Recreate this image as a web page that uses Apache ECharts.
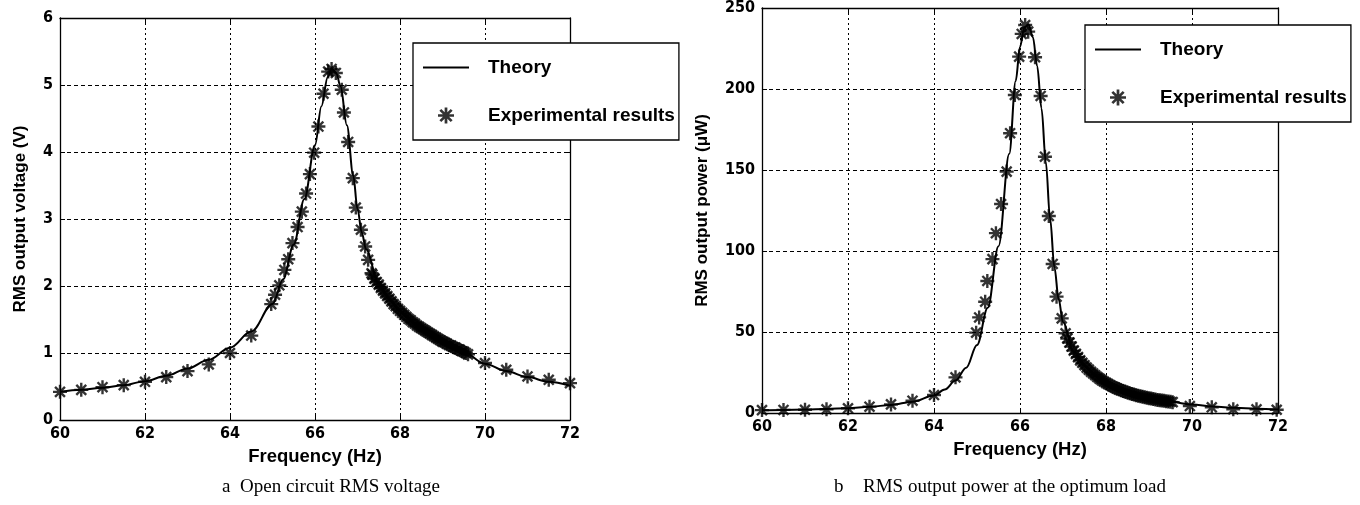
<!DOCTYPE html>
<html>
<head>
<meta charset="utf-8">
<script src="https://cdn.jsdelivr.net/npm/echarts@6/dist/echarts.min.js"></script>
<style>
html,body{margin:0;padding:0;background:#fff;}
#chart{width:1360px;height:505px;}
</style>
</head>
<body>
<div id="chart"></div>
<script>
// ---------- DATA ----------
const xTicks = [60, 62, 64, 66, 68, 70, 72];
const voltTicks = [0, 1, 2, 3, 4, 5, 6];
const powerTicks = [0, 50, 100, 150, 200, 250];

// (a) Open circuit RMS voltage
const voltTheoryFreq = [60, 60.5, 61, 61.5, 62, 62.5, 63, 63.5, 64, 64.5, 65, 65.25, 65.5, 65.75, 66, 66.15, 66.3, 66.4, 66.5, 66.6, 66.75, 66.9, 67, 67.1, 67.2, 67.5, 67.75, 68, 68.5, 69, 69.5, 70, 70.5, 71, 71.5, 72];
const voltTheory     = [0.42, 0.45, 0.48, 0.52, 0.58, 0.66, 0.77, 0.90, 1.08, 1.32, 1.73, 2.10, 2.62, 3.30, 4.10, 4.68, 5.12, 5.24, 5.18, 4.98, 4.40, 3.65, 3.15, 2.80, 2.55, 2.04, 1.80, 1.62, 1.37, 1.17, 1.01, 0.84, 0.73, 0.64, 0.57, 0.51];
const voltExpFreq = [60, 60.5, 61, 61.5, 62, 62.5, 63, 63.5, 64, 64.5, 64.97, 65.06, 65.16, 65.28, 65.37, 65.47, 65.59, 65.69, 65.79, 65.88, 65.98, 66.08, 66.2, 66.31, 66.39, 66.49, 66.63, 66.68, 66.78, 66.89, 66.96, 67.08, 67.18, 67.25, 67.33,
  67.35, 67.40, 67.45, 67.50, 67.55, 67.60, 67.65, 67.70, 67.75, 67.80, 67.85, 67.90, 67.95, 68.00, 68.05, 68.10, 68.15, 68.20, 68.25, 68.30, 68.35, 68.40, 68.45, 68.50, 68.55, 68.60, 68.65, 68.70, 68.75, 68.80, 68.85, 68.90, 68.95, 69.00, 69.05, 69.10, 69.15, 69.20, 69.25, 69.30, 69.35, 69.40, 69.45, 69.50, 69.55, 69.60,
  70, 70.5, 71, 71.5, 72];
const voltExp = [0.42, 0.45, 0.49, 0.52, 0.57, 0.64, 0.73, 0.83, 1.00, 1.26, 1.73, 1.87, 2.01, 2.24, 2.40, 2.64, 2.88, 3.11, 3.38, 3.67, 3.99, 4.38, 4.87, 5.20, 5.24, 5.18, 4.93, 4.59, 4.15, 3.61, 3.17, 2.84, 2.59, 2.39, 2.19,
  2.17, 2.11, 2.06, 2.02, 1.97, 1.93, 1.89, 1.85, 1.81, 1.77, 1.73, 1.70, 1.66, 1.63, 1.60, 1.57, 1.54, 1.51, 1.49, 1.46, 1.44, 1.41, 1.39, 1.37, 1.35, 1.33, 1.31, 1.29, 1.27, 1.25, 1.23, 1.21, 1.19, 1.17, 1.16, 1.14, 1.12, 1.11, 1.09, 1.08, 1.06, 1.05, 1.03, 1.02, 1.00, 0.98,
  0.85, 0.75, 0.65, 0.60, 0.55];

// (b) RMS output power at the optimum load
const powerTheoryFreq = [60, 60.5, 61, 61.5, 62, 62.5, 63, 63.5, 64, 64.25, 64.5, 64.75, 65, 65.25, 65.5, 65.75, 65.9, 66, 66.1, 66.2, 66.3, 66.4, 66.5, 66.6, 66.7, 66.8, 66.9, 67, 67.25, 67.5, 67.75, 68, 68.5, 69, 69.5, 70, 70.5, 71, 71.5, 72];
const powerTheory     = [1.7, 1.9, 2.1, 2.5, 3.0, 3.8, 5.0, 7.0, 10.8, 14.5, 20, 28, 42, 65, 103, 160, 205, 226, 238, 240, 232, 214, 188, 155, 120, 90, 70, 56, 38, 29, 23, 18.3, 12.6, 9.2, 6.9, 5.2, 4.0, 3.2, 2.6, 2.2];
const powerExpFreq = [60, 60.5, 61, 61.5, 62, 62.5, 63, 63.5, 64, 64.5, 64.98, 65.05, 65.19, 65.24, 65.36, 65.44, 65.56, 65.69, 65.77, 65.88, 65.98, 66.04, 66.12, 66.19, 66.35, 66.48, 66.58, 66.67, 66.76, 66.85, 66.97, 67.06,
  67.10, 67.15, 67.20, 67.25, 67.30, 67.35, 67.40, 67.45, 67.50, 67.55, 67.60, 67.65, 67.70, 67.75, 67.80, 67.85, 67.90, 67.95, 68.00, 68.05, 68.10, 68.15, 68.20, 68.25, 68.30, 68.35, 68.40, 68.45, 68.50, 68.55, 68.60, 68.65, 68.70, 68.75, 68.80, 68.85, 68.90, 68.95, 69.00, 69.05, 69.10, 69.15, 69.20, 69.25, 69.30, 69.35, 69.40, 69.45, 69.50, 69.55,
  69.95, 70.46, 70.96, 71.5, 71.97];
const powerExp = [1.8, 1.9, 2.0, 2.3, 2.9, 3.9, 5.3, 7.6, 11.1, 22, 49.6, 59, 68.7, 81.5, 95, 111, 129, 149, 172.7, 196.3, 220, 234, 239.5, 235.4, 219.6, 195.7, 158.2, 121.6, 92, 71.8, 58.4, 49.2,
  46, 43.5, 41, 38.5, 36.5, 34.5, 32.5, 31, 29.5, 28, 26.8, 25.5, 24.4, 23.3, 22.2, 21.2, 20.3, 19.4, 18.6, 17.8, 17.1, 16.4, 15.8, 15.2, 14.6, 14.1, 13.6, 13.1, 12.6, 12.2, 11.8, 11.4, 11.0, 10.7, 10.3, 10.0, 9.7, 9.4, 9.1, 8.9, 8.6, 8.4, 8.1, 7.9, 7.7, 7.5, 7.3, 7.1, 6.9, 6.7,
  4.3, 3.5, 2.3, 2.3, 2.0];

const seriesNames = ['Theory', 'Experimental results'];
const xTitle = 'Frequency (Hz)';
const voltTitle = 'RMS output voltage (V)';
const powerTitle = 'RMS output power (\u03bcW)';
const captionA = ['a', 'Open circuit RMS voltage'];
const captionB = ['b', 'RMS output power at the optimum load'];

// ---------- HELPERS ----------
const zip = (xs, ys) => xs.map((x, i) => [x, ys[i]]);
const asterisk = (() => {
  const w = 0.17;
  let d = '';
  for (const deg of [0, 45, 90, 135]) {
    const t = deg * Math.PI / 180, c = Math.cos(t), s = Math.sin(t);
    const pts = [[-1, -w], [1, -w], [1, w], [-1, w]].map(([x, y]) => [10 + 10 * (x * c - y * s), 10 + 10 * (x * s + y * c)]);
    d += 'M' + pts.map(p => p[0].toFixed(3) + ' ' + p[1].toFixed(3)).join(' L') + ' Z ';
  }
  return 'path://' + d;
})();

const tickFont = { fontFamily: "'Liberation Sans Narrow', 'DejaVu Sans Condensed', sans-serif", fontWeight: 'bold', fontSize: 16, color: '#000' };
const yTitleFont = { fontFamily: "'Liberation Sans', Arial, sans-serif", fontWeight: 'bold', fontSize: 17, color: '#000' };
const xTitleFont = { fontFamily: "'Liberation Sans', Arial, sans-serif", fontWeight: 'bold', fontSize: 18.5, color: '#000' };
const legendFont = { fontFamily: "'Liberation Sans', Arial, sans-serif", fontWeight: 'bold', fontSize: 19, color: '#000' };
const serifFont = { fontFamily: "'Liberation Serif', 'Times New Roman', serif", fontWeight: 'normal', fontSize: 19, color: '#000' };

function xAx(grid, pos, main) {
  return {
    type: 'value', gridIndex: grid, position: pos, min: xTicks[0], max: xTicks[xTicks.length - 1], interval: xTicks[1] - xTicks[0],
    name: main ? xTitle : '', nameLocation: 'middle', nameGap: 27, nameTextStyle: xTitleFont,
    axisLine: { show: true, onZero: false, lineStyle: { color: '#000', width: 1.3 } },
    axisTick: { show: true, inside: true, length: 5, lineStyle: { color: '#000' } },
    axisLabel: { show: main, margin: 6, ...tickFont },
    splitLine: { show: main, lineStyle: { color: '#000', width: 1, type: [2, 3] } }
  };
}
function yAx(grid, pos, main, ticks, title, gap) {
  return {
    type: 'value', gridIndex: grid, position: pos, min: ticks[0], max: ticks[ticks.length - 1], interval: ticks[1] - ticks[0],
    name: main ? title : '', nameLocation: 'middle', nameGap: gap, nameRotate: 90, nameTextStyle: yTitleFont,
    axisLine: { show: true, onZero: false, lineStyle: { color: '#000', width: 1.3 } },
    axisTick: { show: true, inside: true, length: 5, lineStyle: { color: '#000' } },
    axisLabel: { show: main, margin: 7, ...tickFont },
    splitLine: { show: main, lineStyle: { color: '#000', width: 1, type: [4, 3] } }
  };
}
function legendAt(left, top) {
  return {
    left: left, top: top, orient: 'vertical', selectedMode: false,
    data: [
      { name: seriesNames[0], itemStyle: { color: 'rgba(0,0,0,0)', borderWidth: 0, opacity: 0 } },
      { name: seriesNames[1] }
    ],
    backgroundColor: '#fff', borderColor: '#000', borderWidth: 1.3,
    padding: [15, 4, 15, 9], itemWidth: 46, itemHeight: 16, itemGap: 29,
    textStyle: { ...legendFont, padding: [0, 0, 0, 14] }
  };
}

const chart = echarts.init(document.getElementById('chart'), null, { renderer: 'canvas' });
chart.setOption({
  animation: false,
  backgroundColor: '#fff',
  title: [
    { text: captionA[0], left: 222, top: 478, padding: 0, textStyle: serifFont },
    { text: captionA[1], left: 240, top: 478, padding: 0, textStyle: serifFont },
    { text: captionB[0], left: 834, top: 478, padding: 0, textStyle: serifFont },
    { text: captionB[1], left: 863, top: 478, padding: 0, textStyle: serifFont }
  ],
  legend: [legendAt(413, 43), legendAt(1085, 25)],
  grid: [
    { left: 60, top: 18, width: 510, height: 402, show: false },
    { left: 762, top: 8, width: 516, height: 405, show: false }
  ],
  xAxis: [xAx(0, 'bottom', true), xAx(0, 'top', false), xAx(1, 'bottom', true), xAx(1, 'top', false)],
  yAxis: [
    yAx(0, 'left', true, voltTicks, voltTitle, 31),
    yAx(0, 'right', false, voltTicks, '', 0),
    yAx(1, 'left', true, powerTicks, powerTitle, 51),
    yAx(1, 'right', false, powerTicks, '', 0)
  ],
  series: [
    { type: 'line', name: seriesNames[0], xAxisIndex: 0, yAxisIndex: 0, data: zip(voltTheoryFreq, voltTheory), smooth: 0.35, smoothMonotone: 'x', symbol: 'none', lineStyle: { color: '#000', width: 2 }, itemStyle: { color: '#000' }, z: 3 },
    { type: 'scatter', name: seriesNames[1], xAxisIndex: 0, yAxisIndex: 0, data: zip(voltExpFreq, voltExp), symbol: asterisk, symbolSize: 14, itemStyle: { color: '#000' }, z: 2 },
    { type: 'line', name: seriesNames[0], xAxisIndex: 2, yAxisIndex: 2, data: zip(powerTheoryFreq, powerTheory), smooth: 0.35, smoothMonotone: 'x', symbol: 'none', lineStyle: { color: '#000', width: 2 }, itemStyle: { color: '#000' }, z: 3 },
    { type: 'scatter', name: seriesNames[1], xAxisIndex: 2, yAxisIndex: 2, data: zip(powerExpFreq, powerExp), symbol: asterisk, symbolSize: 14, itemStyle: { color: '#000' }, z: 2 }
  ]
});
</script>
</body>
</html>
